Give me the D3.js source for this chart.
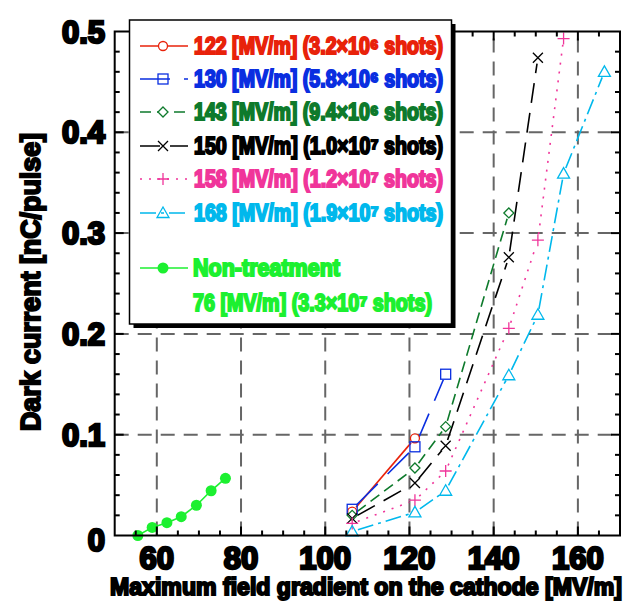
<!DOCTYPE html>
<html>
<head>
<meta charset="utf-8">
<script src="https://cdn.jsdelivr.net/npm/d3@7/dist/d3.min.js"></script>
<style>
  html, body { margin: 0; padding: 0; background: #fff; }
  svg text { font-family: "Liberation Sans", Arial, sans-serif; font-weight: bold; }
</style>
</head>
<body>
<div id="chart"></div>
<script>
// Data
const gradients = [106.4, 121.3, 128.6, 143.6, 150.5, 156.6, 166.3];
const red122 = [0.0236, 0.0964];
const blue130 = [0.026, 0.088, 0.160];
const green143 = [0.020, 0.067, 0.108, 0.320];
const black150 = [0.017, 0.052, 0.089, 0.276, 0.474];
const pink158 = [0.012, 0.035, 0.064, 0.2055, 0.293, 0.493];
const cyan168 = [0.004, 0.023, 0.0444, 0.159, 0.219, 0.359, 0.460];
const nonTreatX = [55.5, 58.9, 62.4, 65.8, 69.4, 72.9, 76.3];
const nonTreatY = [0.0, 0.008, 0.0127, 0.0187, 0.030, 0.0444, 0.0567];

const xTicks = [60, 80, 100, 120, 140, 160];
const yTicks = [0, 0.1, 0.2, 0.3, 0.4, 0.5];
const yTickLabels = ["0", "0.1", "0.2", "0.3", "0.4", "0.5"];

// series setup
const series = [
    { label: "122 [MV/m] (3.2\u00d710\u2076 shots)", color: "#e8220a", dash: null, marker: "circle", values: red122 },
    { label: "130 [MV/m] (5.8\u00d710\u2076 shots)", color: "#0a2ee0", dash: "30,14", marker: "square", values: blue130 },
    { label: "143 [MV/m] (9.4\u00d710\u2076 shots)", color: "#0e7a2c", dash: "11,6", marker: "diamond", values: green143 },
    { label: "150 [MV/m] (1.0\u00d710\u2077 shots)", color: "#000000", dash: "20,10", marker: "cross", values: black150 },
    { label: "158 [MV/m] (1.2\u00d710\u2077 shots)", color: "#f0359a", dash: "2,7", marker: "plus", values: pink158 },
    { label: "168 [MV/m] (1.9\u00d710\u2077 shots)", color: "#00b8ec", dash: "16,5,3,5", marker: "triangle", values: cyan168 }
];
const nonTreatColor = "#1cf030";
const nonTreatLabels = ["Non-treatment", "76 [MV/m] (3.3\u00d710\u2077 shots)"];

const width = 626, height = 602;
const x = d3.scaleLinear().domain([50, 170]).range([114.7, 620]);
const y = d3.scaleLinear().domain([0, 0.5]).range([535.5, 31.5]);

const svg = d3.select("#chart").append("svg")
    .attr("width", width)
    .attr("height", height);

/*----------------------
GRID
----------------------*/
const grid = svg.append("g");
grid.selectAll("line.vg")
    .data(xTicks)
    .enter().append("line")
    .attr("x1", d => x(d)).attr("x2", d => x(d))
    .attr("y1", y(0)).attr("y2", y(0.5))
    .attr("stroke", "#666").attr("stroke-width", 2)
    .attr("stroke-dasharray", "14,9");
grid.selectAll("line.hg")
    .data([0.1, 0.2, 0.3, 0.4])
    .enter().append("line")
    .attr("x1", x(50)).attr("x2", x(170))
    .attr("y1", d => y(d)).attr("y2", d => y(d))
    .attr("stroke", "#666").attr("stroke-width", 2)
    .attr("stroke-dasharray", "14,9");

/*----------------------
MARKERS
----------------------*/
function drawMarker(g, type, cx, cy, color) {
    const m = g.append("g").attr("transform", `translate(${cx},${cy})`);
    const s = { fill: "none", stroke: color, "stroke-width": 1.3 };
    const apply = el => { for (const k in s) el.attr(k, s[k]); return el; };
    if (type === "circle") apply(m.append("circle").attr("r", 4.5)).attr("fill", "#fff");
    if (type === "square") apply(m.append("rect").attr("x", -5).attr("y", -5).attr("width", 10).attr("height", 10));
    if (type === "diamond") apply(m.append("path").attr("d", "M0,-5L5,0L0,5L-5,0Z")).attr("fill", "#fff");
    if (type === "cross") apply(m.append("path").attr("d", "M-5,-5L5,5M-5,5L5,-5"));
    if (type === "plus") apply(m.append("path").attr("d", "M-6,0L6,0M0,-6L0,6"));
    if (type === "triangle") apply(m.append("path").attr("d", "M0,-6L6,4.5L-6,4.5Z"));
    if (type === "dot") m.append("circle").attr("r", 5.5).attr("fill", color);
}

// segments that stop short of the markers
function drawSeries(g, xs, ys, color, dash, gap) {
    for (let i = 0; i < ys.length - 1; i++) {
        const x1 = x(xs[i]), y1 = y(ys[i]), x2 = x(xs[i + 1]), y2 = y(ys[i + 1]);
        const len = Math.hypot(x2 - x1, y2 - y1);
        if (len <= gap * 2) continue;
        const ux = (x2 - x1) / len, uy = (y2 - y1) / len;
        g.append("line")
            .attr("x1", x1 + ux * gap).attr("y1", y1 + uy * gap)
            .attr("x2", x2 - ux * gap).attr("y2", y2 - uy * gap)
            .attr("stroke", color).attr("stroke-width", 1.6)
            .attr("stroke-dasharray", dash);
    }
}

const dataG = svg.append("g");
series.forEach(s => {
    drawSeries(dataG, gradients, s.values, s.color, s.dash, 6);
});
drawSeries(dataG, nonTreatX, nonTreatY, nonTreatColor, null, 4);
series.forEach(s => {
    s.values.forEach((v, i) => drawMarker(dataG, s.marker, x(gradients[i]), y(v), s.color));
});
nonTreatX.forEach((v, i) => drawMarker(dataG, "dot", x(v), y(nonTreatY[i]), nonTreatColor));

/*----------------------
AXES / FRAME
----------------------*/
const axisG = svg.append("g");
axisG.append("rect")
    .attr("x", x(50)).attr("y", y(0.5))
    .attr("width", x(170) - x(50)).attr("height", y(0) - y(0.5))
    .attr("fill", "none").attr("stroke", "#000").attr("stroke-width", 2);

const xMinor = d3.range(55, 170, 5);
const yMinor = d3.range(0.02, 0.5, 0.02);
xMinor.forEach(v => {
    const major = v % 20 === 0;
    const len = major ? 9 : 5;
    axisG.append("line").attr("x1", x(v)).attr("x2", x(v))
        .attr("y1", y(0)).attr("y2", y(0) - len).attr("stroke", "#000").attr("stroke-width", 2);
    axisG.append("line").attr("x1", x(v)).attr("x2", x(v))
        .attr("y1", y(0.5)).attr("y2", y(0.5) + len).attr("stroke", "#000").attr("stroke-width", 2);
});
yMinor.forEach(v => {
    const major = Math.abs(v * 10 - Math.round(v * 10)) < 1e-6;
    const len = major ? 9 : 5;
    axisG.append("line").attr("x1", x(50)).attr("x2", x(50) + len)
        .attr("y1", y(v)).attr("y2", y(v)).attr("stroke", "#000").attr("stroke-width", 2);
    axisG.append("line").attr("x1", x(170)).attr("x2", x(170) - len)
        .attr("y1", y(v)).attr("y2", y(v)).attr("stroke", "#000").attr("stroke-width", 2);
});

// tick labels
axisG.selectAll("text.xt")
    .data(xTicks)
    .enter().append("text")
    .attr("x", d => x(d)).attr("y", 569)
    .attr("text-anchor", "middle")
    .attr("font-size", 31)
    .attr("fill", "#000").attr("stroke", "#000").attr("stroke-width", 2.5)
    .text(d => d);
axisG.selectAll("text.yt")
    .data(yTicks)
    .enter().append("text")
    .attr("x", 105).attr("y", d => y(d) + 11 + (d === 0 ? 4 : 0))
    .attr("text-anchor", "end")
    .attr("font-size", 31)
    .attr("fill", "#000").attr("stroke", "#000").attr("stroke-width", 2.5)
    .text((d, i) => yTickLabels[i]);

// axis titles
svg.append("text")
    .attr("x", 110).attr("y", 595)
    .attr("font-size", 23)
    .attr("textLength", 512).attr("lengthAdjust", "spacingAndGlyphs")
    .attr("fill", "#000").attr("stroke", "#000").attr("stroke-width", 2)
    .text("Maximum field gradient on the cathode [MV/m]");
svg.append("text")
    .attr("transform", "translate(40,282) rotate(-90)")
    .attr("text-anchor", "middle")
    .attr("font-size", 28)
    .attr("textLength", 298).attr("lengthAdjust", "spacingAndGlyphs")
    .attr("fill", "#000").attr("stroke", "#000").attr("stroke-width", 2)
    .text("Dark current [nC/pulse]");

/*----------------------
LEGEND
----------------------*/
const lg = svg.append("g");
const lx = 129.5, ly = 20, lw = 322, lh = 304;
lg.append("rect").attr("x", lx + 4).attr("y", ly + 4).attr("width", lw).attr("height", lh).attr("fill", "#000");
lg.append("rect").attr("x", lx).attr("y", ly).attr("width", lw).attr("height", lh)
    .attr("fill", "#fff").attr("stroke", "#000").attr("stroke-width", 1.5);

const rowY = [46, 79, 112, 146, 179, 213];
series.forEach((s, i) => {
    const ry = rowY[i];
    lg.append("line").attr("x1", 140).attr("x2", 188).attr("y1", ry).attr("y2", ry)
        .attr("stroke", s.color).attr("stroke-width", 1.4)
        .attr("stroke-dasharray", s.dash);
    drawMarker(lg, s.marker, 163, ry, s.color);
    lg.append("text")
        .attr("x", 194).attr("y", ry + 8)
        .attr("font-size", 23)
        .attr("fill", s.color).attr("stroke", s.color).attr("stroke-width", 2)
        .attr("textLength", 249).attr("lengthAdjust", "spacingAndGlyphs")
        .text(s.label);
});

// non-treatment entry
lg.append("line").attr("x1", 140).attr("x2", 188).attr("y1", 268).attr("y2", 268)
    .attr("stroke", nonTreatColor).attr("stroke-width", 1.4);
drawMarker(lg, "dot", 163, 268, nonTreatColor);
lg.append("text")
    .attr("x", 193).attr("y", 276)
    .attr("font-size", 23)
    .attr("fill", nonTreatColor).attr("stroke", nonTreatColor).attr("stroke-width", 2)
    .attr("textLength", 147).attr("lengthAdjust", "spacingAndGlyphs")
    .text(nonTreatLabels[0]);
lg.append("text")
    .attr("x", 193).attr("y", 311)
    .attr("font-size", 23)
    .attr("fill", nonTreatColor).attr("stroke", nonTreatColor).attr("stroke-width", 2)
    .attr("textLength", 239).attr("lengthAdjust", "spacingAndGlyphs")
    .text(nonTreatLabels[1]);
</script>
</body>
</html>
